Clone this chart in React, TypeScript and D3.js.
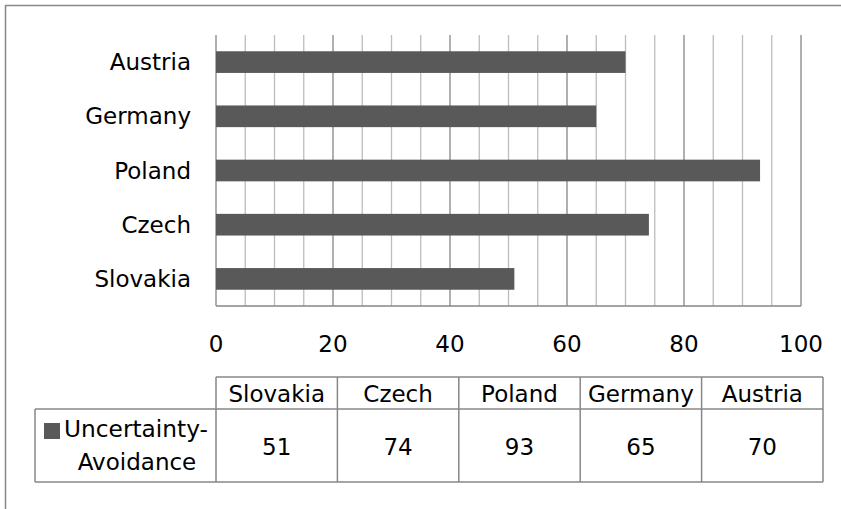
import * as d3 from "d3";

const CATEGORIES = ["Slovakia", "Czech", "Poland", "Germany", "Austria"];
const VALUES = [51, 74, 93, 65, 70];
const SERIES_LINES = ["Uncertainty-", "Avoidance"];
const X_TICKS = [0, 20, 40, 60, 80, 100];

const W = 841;
const H = 509;
const FONT = "'DejaVu Sans', Verdana, sans-serif";
const BORDER = "#878787";

export default function App() {
  const plot = { left: 216, right: 801, top: 35, bottom: 306 };

  const x = d3.scaleLinear().domain([0, 100]).range([plot.left, plot.right]);
  const y = d3
    .scaleBand<string>()
    .domain([...CATEGORIES].reverse())
    .range([plot.top, plot.bottom])
    .paddingInner(0.6)
    .paddingOuter(0.3);

  const col = d3
    .scaleBand<string>()
    .domain(CATEGORIES)
    .range([216, 823]);

  const headTop = 377;
  const headBot = 409;
  const rowBot = 482;
  const legendLeft = 35;

  const grid = d3.range(0, 101, 5);

  return (
    <svg
      width={W}
      height={H}
      style={{ position: "absolute", left: 0, top: 0, background: "#fff" }}
      fontFamily={FONT}
    >
      {/* chart frame */}
      <line x1={5} x2={W + 5} y1={5.5} y2={5.5} stroke={BORDER} strokeWidth={1.5} />
      <line x1={5.5} x2={5.5} y1={5} y2={H + 5} stroke={BORDER} strokeWidth={1.5} />

      {/* gridlines */}
      {grid.map((g) => (
        <line
          key={g}
          x1={x(g)}
          x2={x(g)}
          y1={plot.top}
          y2={plot.bottom}
          stroke={g % 20 === 0 ? "#868686" : "#bdbdbd"}
          strokeWidth={1.3}
        />
      ))}
      <line x1={plot.left} x2={plot.right} y1={plot.bottom} y2={plot.bottom} stroke="#868686" strokeWidth={1.3} />

      {/* bars */}
      {CATEGORIES.map((c, i) => (
        <rect
          key={c}
          x={x(0)}
          y={y(c)}
          width={x(VALUES[i]) - x(0)}
          height={y.bandwidth()}
          fill="#595959"
        />
      ))}

      {/* category labels */}
      {CATEGORIES.map((c) => (
        <text
          key={c}
          x={191}
          y={(y(c) ?? 0) + y.bandwidth() / 2}
          dy="0.35em"
          textAnchor="end"
          fontSize={23}
          fill="#000"
        >
          {c}
        </text>
      ))}

      {/* x tick labels */}
      {X_TICKS.map((t) => (
        <text key={t} x={x(t)} y={352} textAnchor="middle" fontSize={23} fill="#000">
          {t}
        </text>
      ))}

      {/* data table */}
      <g stroke={BORDER} strokeWidth={1.5} fill="none">
        <line x1={216} x2={823} y1={headTop} y2={headTop} />
        <line x1={legendLeft} x2={823} y1={headBot} y2={headBot} />
        <line x1={legendLeft} x2={823} y1={rowBot} y2={rowBot} />
        <line x1={legendLeft} x2={legendLeft} y1={headBot} y2={rowBot} />
        {CATEGORIES.map((c) => (
          <line key={c} x1={col(c)} x2={col(c)} y1={headTop} y2={rowBot} />
        ))}
        <line x1={823} x2={823} y1={headTop} y2={rowBot} />
      </g>
      {CATEGORIES.map((c, i) => {
        const cx = (col(c) ?? 0) + col.bandwidth() / 2;
        return (
          <g key={c} fontSize={23} textAnchor="middle" fill="#000">
            <text x={cx} y={402}>{c}</text>
            <text x={cx} y={455}>{VALUES[i]}</text>
          </g>
        );
      })}

      {/* legend cell */}
      <rect x={44} y={423} width={16} height={16} fill="#595959" />
      <text x={64} y={437} fontSize={23} fill="#000" textLength={144} lengthAdjust="spacingAndGlyphs">
        {SERIES_LINES[0]}
      </text>
      <text x={137} y={470} textAnchor="middle" fontSize={23} fill="#000">
        {SERIES_LINES[1]}
      </text>
    </svg>
  );
}
